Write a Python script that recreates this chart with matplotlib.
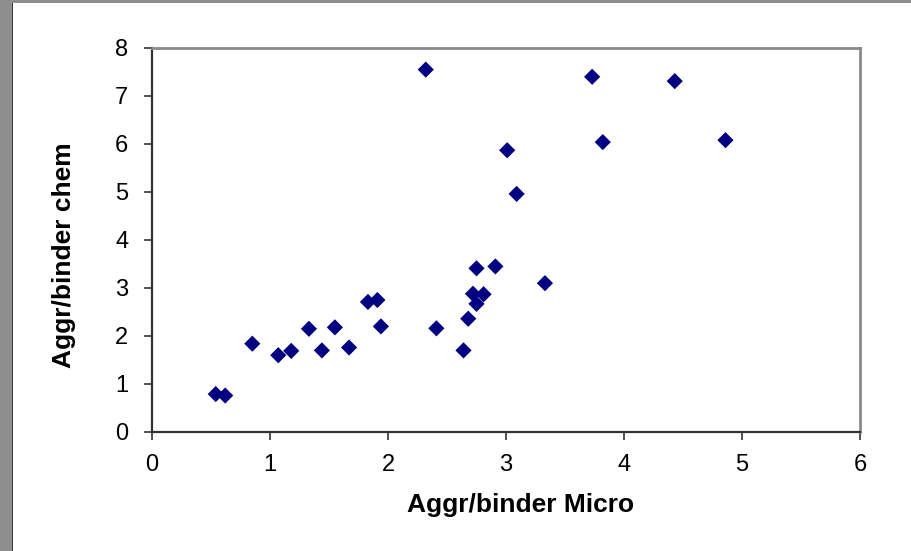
import matplotlib.pyplot as plt
from matplotlib.patches import Rectangle

# values
micro = [0.54, 0.62, 0.85, 1.07, 1.18, 1.33, 1.44, 1.55, 1.67, 1.83, 1.91, 1.94,
         2.32, 2.41, 2.64, 2.68, 2.72, 2.75, 2.75, 2.81, 2.91, 3.01, 3.09, 3.33,
         3.73, 3.82, 4.43, 4.86]
chem = [0.79, 0.76, 1.84, 1.60, 1.69, 2.15, 1.70, 2.18, 1.76, 2.71, 2.75, 2.20,
        7.55, 2.16, 1.70, 2.36, 2.88, 3.41, 2.67, 2.87, 3.45, 5.87, 4.96, 3.10,
        7.40, 6.04, 7.31, 6.08]
x_ticks = [0, 1, 2, 3, 4, 5, 6]
y_ticks = [0, 1, 2, 3, 4, 5, 6, 7, 8]

plt.rcParams['font.family'] = ['Liberation Sans', 'DejaVu Sans']

fig = plt.figure(figsize=(9.11, 5.51), dpi=100)
fig.patch.set_facecolor('#8e8e8e')
# white slide panel with a dark edge on the left
fig.patches.append(Rectangle((13 / 911, 0), 1, 548 / 551, transform=fig.transFigure,
                             facecolor='white', edgecolor='none', zorder=-2))
fig.patches.append(Rectangle((12 / 911, 0), 1.2 / 911, 548 / 551, transform=fig.transFigure,
                             facecolor='#3a3a3a', edgecolor='none', zorder=-1))

ax = fig.add_axes([152 / 911, 1 - 432 / 551, 708 / 911, 384 / 551])
ax.scatter(micro, chem, marker='D', s=68, color='#000080', edgecolors='none', zorder=3)

ax.set_xlim(0, 6)
ax.set_ylim(0, 8)
ax.set_xticks(x_ticks)
ax.set_yticks(y_ticks)
ax.tick_params(axis='both', direction='out', length=6, width=1.2, color='#333333',
               labelsize=17)
ax.tick_params(axis='y', pad=11)
ax.tick_params(axis='x', pad=10)

for side in ['left', 'bottom']:
    ax.spines[side].set_color('#333333')
    ax.spines[side].set_linewidth(1.6)
for side in ['top', 'right']:
    ax.spines[side].set_color('#8a8a8a')
    ax.spines[side].set_linewidth(2)

ax.set_xlabel('Aggr/binder Micro', fontsize=19, fontweight='bold')
ax.set_ylabel('Aggr/binder chem', fontsize=19, fontweight='bold')
ax.xaxis.set_label_coords(0.52, -0.158)
ax.yaxis.set_label_coords(-0.108, 0.46)

fig.savefig('out.png', dpi=100, facecolor=fig.get_facecolor())
